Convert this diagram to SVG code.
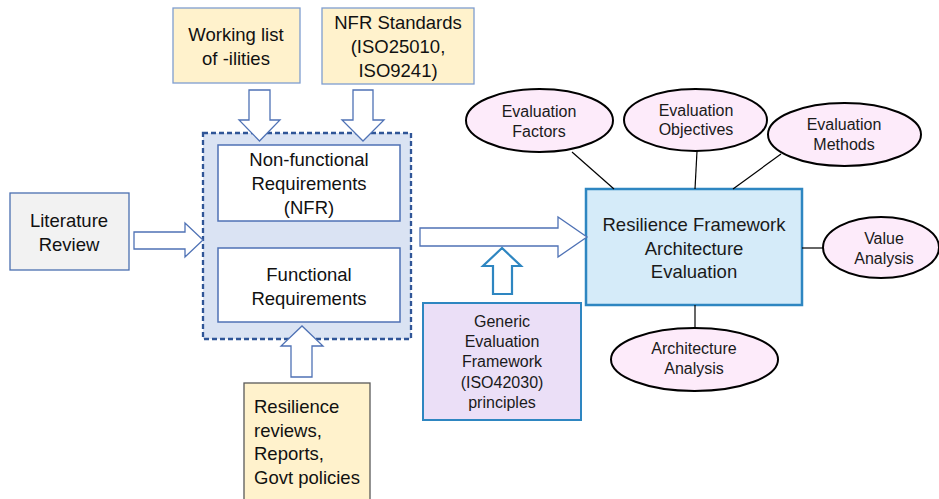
<svg xmlns="http://www.w3.org/2000/svg" width="939" height="499" viewBox="0 0 939 499">
<style>
text{font-family:"Liberation Sans",Arial,sans-serif;fill:#111;}
.l{font-size:18.5px;text-anchor:middle;}
.ll{font-size:18.5px;}
.r{font-size:16px;text-anchor:middle;fill:#1a1a1a;}
.rb{font-size:18.5px;text-anchor:middle;fill:#1a1a1a;}
.yb{fill:#fff2cc;stroke:#7f9dcf;stroke-width:1.3;}
.inner{fill:#fff;stroke:#4f72b5;stroke-width:1.5;}
.oarr{fill:#fff;stroke:#4f72b5;stroke-width:1.3;stroke-linejoin:miter;}
.tarr{fill:#fff;stroke:#2e86c1;stroke-width:2.2;}
.ell{fill:#fdebfa;stroke:#000;stroke-width:2;}
.ln{stroke:#000;stroke-width:1.2;fill:none;}
</style>
<rect width="939" height="499" fill="#fff"/>

<g id="container">
<rect x="203" y="133" width="208" height="206" fill="#dae3f3" stroke="#2f5597" stroke-width="2.3" stroke-dasharray="5,3"/>
</g>

<g id="working-list">
<rect class="yb" x="173" y="8" width="127" height="75"/>
<text class="l" x="236" y="41">Working list</text>
<text class="l" x="236" y="65">of -ilities</text>
</g>

<g id="nfr-standards">
<rect class="yb" x="322" y="8" width="152" height="76"/>
<text class="l" x="398" y="29">NFR Standards</text>
<text class="l" x="398" y="53">(ISO25010,</text>
<text class="l" x="398" y="77">ISO9241)</text>
</g>

<g id="nfr">
<rect class="inner" x="218" y="145" width="182" height="76"/>
<text class="l" x="309" y="166">Non-functional</text>
<text class="l" x="309" y="190">Requirements</text>
<text class="l" x="309" y="214">(NFR)</text>
</g>

<g id="functional">
<rect class="inner" x="218" y="248" width="182" height="74"/>
<text class="l" x="309" y="281">Functional</text>
<text class="l" x="309" y="305">Requirements</text>
</g>

<g id="literature-review">
<rect x="10" y="193" width="119" height="77" fill="#f2f2f2" stroke="#4a6fb0" stroke-width="1.3"/>
<text class="l" x="69" y="227">Literature</text>
<text class="l" x="69" y="251">Review</text>
</g>

<g id="resilience-reviews">
<rect x="244" y="383" width="126" height="120" fill="#fff2cc" stroke="#595959" stroke-width="1.3"/>
<text class="ll" x="254" y="413">Resilience</text>
<text class="ll" x="254" y="437">reviews,</text>
<text class="ll" x="254" y="460">Reports,</text>
<text class="ll" x="254" y="484">Govt policies</text>
</g>

<g id="generic-framework">
<rect x="423" y="303" width="158" height="117" fill="#ebdff7" stroke="#2e86c1" stroke-width="2"/>
<text class="r" x="502" y="327">Generic</text>
<text class="r" x="502" y="347">Evaluation</text>
<text class="r" x="502" y="367">Framework</text>
<text class="r" x="502" y="388">(ISO42030)</text>
<text class="r" x="502" y="408">principles</text>
</g>

<g id="rf-evaluation">
<rect x="586" y="189" width="216" height="116" fill="#d5ebf9" stroke="#2e86c1" stroke-width="2.5"/>
<text class="rb" x="694" y="231">Resilience Framework</text>
<text class="rb" x="694" y="255">Architecture</text>
<text class="rb" x="694" y="278">Evaluation</text>
</g>

<g id="connectors">
<polygon class="oarr" points="249,90 270,90 270,120 280,120 259.5,141 239,120 249,120"/>
<polygon class="oarr" points="353,90 373,90 373,120 384,120 363,141 342,120 353,120"/>
<polygon class="oarr" points="134,232 185,232 185,223 203,240 185,257 185,249 134,249"/>
<polygon class="oarr" points="291,377 312,377 312,346 323,346 302,326 281,346 291,346"/>
<polygon class="oarr" points="420,228 558,228 558,217 587,237 558,257 558,246 420,246"/>
<polygon class="tarr" points="493,294 512,294 512,266 521,266 502,248 483,266 493,266"/>
<line class="ln" x1="572" y1="152" x2="614" y2="189"/>
<line class="ln" x1="697" y1="151" x2="695" y2="189"/>
<line class="ln" x1="781" y1="154" x2="733" y2="189"/>
<line class="ln" x1="802" y1="248" x2="823" y2="248"/>
<line class="ln" x1="695" y1="305" x2="695" y2="328"/>
</g>

<g id="evaluation-factors">
<ellipse class="ell" cx="539.5" cy="120.5" rx="73.5" ry="31.5"/>
<text class="r" x="539" y="117">Evaluation</text>
<text class="r" x="539" y="137">Factors</text>
</g>

<g id="evaluation-objectives">
<ellipse class="ell" cx="695.5" cy="120" rx="71.5" ry="31"/>
<text class="r" x="696" y="116">Evaluation</text>
<text class="r" x="696" y="135">Objectives</text>
</g>

<g id="evaluation-methods">
<ellipse class="ell" cx="844.5" cy="134.5" rx="76.5" ry="31.5"/>
<text class="r" x="844" y="130">Evaluation</text>
<text class="r" x="844" y="150">Methods</text>
</g>

<g id="value-analysis">
<ellipse class="ell" cx="881" cy="247.5" rx="58" ry="30.5"/>
<text class="r" x="884" y="244">Value</text>
<text class="r" x="884" y="264">Analysis</text>
</g>

<g id="architecture-analysis">
<ellipse class="ell" cx="694.5" cy="359.5" rx="83.5" ry="31.5"/>
<text class="r" x="694" y="354">Architecture</text>
<text class="r" x="694" y="374">Analysis</text>
</g>
</svg>
